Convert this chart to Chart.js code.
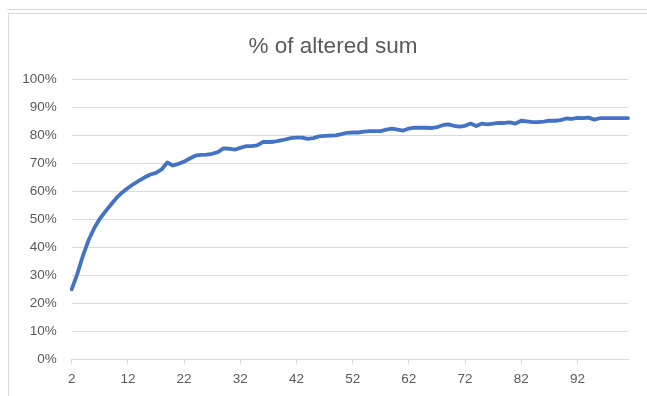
<!DOCTYPE html>
<html>
<head>
<meta charset="utf-8">
<script src="https://cdn.jsdelivr.net/npm/chart.js@4/dist/chart.umd.min.js"></script>
<style>
  body { margin: 0; background: #fff; }
  #wrap { position: relative; width: 647px; height: 396px; overflow: hidden; }
  #sheetLine { position: absolute; left: 7px; right: 0; top: 9px; height: 0; border-top: 1px solid #d4d4d4; }
  #frame { position: absolute; left: 8px; top: 13px; width: 700px; height: 400px; border-top: 1px solid #d9d9d9; border-left: 1px solid #d9d9d9; }
  canvas { position: absolute; left: 0; top: 0; }
</style>
</head>
<body>
<div id="wrap">
  <div id="sheetLine"></div>
  <div id="frame"></div>
  <canvas id="chart" width="647" height="396"></canvas>
</div>
<script>
var TITLE = '% of altered sum';
var LINE_COLOR = '#4472C4';
var TEXT_COLOR = '#595959';
var GRID_COLOR = '#d9d9d9';

// x categories (2..101)
var categories = [
  '2', '3', '4', '5', '6', '7', '8', '9', '10', '11',
  '12', '13', '14', '15', '16', '17', '18', '19', '20', '21',
  '22', '23', '24', '25', '26', '27', '28', '29', '30', '31',
  '32', '33', '34', '35', '36', '37', '38', '39', '40', '41',
  '42', '43', '44', '45', '46', '47', '48', '49', '50', '51',
  '52', '53', '54', '55', '56', '57', '58', '59', '60', '61',
  '62', '63', '64', '65', '66', '67', '68', '69', '70', '71',
  '72', '73', '74', '75', '76', '77', '78', '79', '80', '81',
  '82', '83', '84', '85', '86', '87', '88', '89', '90', '91',
  '92', '93', '94', '95', '96', '97', '98', '99', '100', '101'
];

// percent values
var alteredPct = [
  25.0, 30.5, 37.0, 42.5, 46.8, 50.2, 52.8, 55.3, 57.7, 59.6,
  61.2, 62.6, 63.8, 65.0, 66.0, 66.6, 67.8, 70.3, 69.2, 69.8,
  70.6, 71.7, 72.7, 73.0, 73.1, 73.4, 74.0, 75.3, 75.2, 74.9,
  75.5, 76.1, 76.1, 76.4, 77.6, 77.6, 77.7, 78.1, 78.5, 79.0,
  79.2, 79.2, 78.7, 79.0, 79.6, 79.8, 79.9, 80.0, 80.4, 80.9,
  81.0, 81.0, 81.3, 81.5, 81.5, 81.5, 82.0, 82.4, 82.0, 81.7,
  82.4, 82.7, 82.7, 82.7, 82.6, 82.9, 83.6, 83.9, 83.4, 83.1,
  83.4, 84.2, 83.3, 84.2, 83.9, 84.2, 84.4, 84.4, 84.6, 84.2,
  85.2, 85.0, 84.7, 84.7, 84.9, 85.2, 85.2, 85.4, 86.0, 85.9,
  86.2, 86.1, 86.3, 85.6, 86.1, 86.1, 86.1, 86.1, 86.1, 86.1
];

// labels Excel shows on the category axis
var shownTicks = ['2', '12', '22', '32', '42', '52', '62', '72', '82', '92'];

var ctx = document.getElementById('chart');
var chart = new Chart(ctx, {
  type: 'line',
  data: {
    labels: categories,
    datasets: [{
      label: TITLE,
      data: alteredPct,
      borderColor: LINE_COLOR,
      borderWidth: 3.8,
      borderCapStyle: 'round',
      borderJoinStyle: 'round',
      pointRadius: 0,
      tension: 0,
      fill: false
    }]
  },
  options: {
    responsive: false,
    animation: false,
    layout: {
      padding: { left: 20, right: 1, top: 0, bottom: 1.5 }
    },
    plugins: {
      legend: { display: false },
      tooltip: { enabled: false },
      title: {
        display: true,
        text: TITLE,
        color: TEXT_COLOR,
        font: { family: 'Liberation Sans', size: 22.5, weight: 'normal' },
        padding: { top: 33, bottom: 19.3 }
      }
    },
    scales: {
      x: {
        offset: false,
        border: { display: true, color: GRID_COLOR },
        grid: {
          display: true,
          drawOnChartArea: false,
          drawTicks: true,
          tickLength: 5,
          color: GRID_COLOR
        },
        ticks: {
          autoSkip: false,
          maxRotation: 0,
          padding: 7,
          color: TEXT_COLOR,
          font: { family: 'Liberation Sans', size: 13.5 },
          callback: function(value, index) {
            var lbl = this.getLabelForValue(value);
            return shownTicks.indexOf(lbl) >= 0 ? lbl : null;
          }
        }
      },
      y: {
        min: 0,
        max: 100,
        border: { display: false },
        grid: { color: GRID_COLOR, drawTicks: false },
        ticks: {
          stepSize: 10,
          padding: 15,
          color: TEXT_COLOR,
          font: { family: 'Liberation Sans', size: 13.5 },
          callback: function(value) { return value + '%'; }
        },
        afterFit: function(scale) { scale.width = 51.7; }
      },
      // empty strip on the right so the title sits where Excel puts it
      spacer: {
        type: 'linear',
        position: 'right',
        display: true,
        border: { display: false },
        grid: { display: false },
        ticks: { display: false },
        afterFit: function(scale) { scale.width = 18; }
      }
    }
  }
});
</script>
</body>
</html>
